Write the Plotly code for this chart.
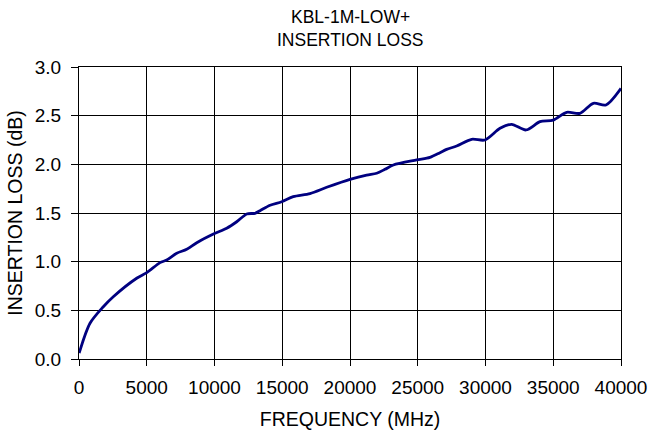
import plotly.graph_objects as go

freq_mhz = [10, 812, 1795, 2530, 4255, 5000, 5980, 6470, 7210, 7950, 8690, 9920, 10900,
            11640, 12380, 12990, 13360, 14100, 14960, 15810, 17050, 18280, 20000, 21230,
            21970, 22580, 23200, 24920, 25900, 26640, 27130, 27870, 28980, 29960, 31070,
            31930, 32990, 34020, 35000, 35990, 36970, 37960, 38890, 40000]
loss_db = [0.06, 0.367, 0.537, 0.64, 0.83, 0.887, 0.99, 1.017, 1.086, 1.127, 1.195, 1.284, 1.343,
           1.41, 1.49, 1.497, 1.524, 1.58, 1.616, 1.668, 1.70, 1.764, 1.846, 1.89,
           1.908, 1.949, 1.993, 2.045, 2.072, 2.12, 2.154, 2.188, 2.257, 2.25, 2.37,
           2.411, 2.353, 2.438, 2.455, 2.535, 2.524, 2.627, 2.61, 2.78]

title_lines = ["KBL-1M-LOW+", "INSERTION LOSS"]
x_title = "FREQUENCY (MHz)"
y_title = "INSERTION LOSS (dB)"

FONT = "Liberation Sans, Arial, sans-serif"

fig = go.Figure()
fig.add_trace(go.Scatter(
    x=freq_mhz, y=loss_db, mode="lines",
    line=dict(color="#000080", width=2.8, shape="spline", smoothing=0.8),
    hoverinfo="skip", showlegend=False,
))

fig.update_layout(
    width=649, height=433,
    margin=dict(l=79, r=28, t=67, b=74, autoexpand=False),
    paper_bgcolor="white", plot_bgcolor="white",
    font=dict(family=FONT, size=19, color="black"),
    showlegend=False,
)
for i, line in enumerate(title_lines):
    fig.add_annotation(
        text=line, xref="paper", yref="paper", x=0.5, xanchor="center",
        y=1 + (67 - 17 - 23 * i) / 292, yanchor="middle",
        showarrow=False, font=dict(family=FONT, size=17.5, color="black"),
    )

fig.update_xaxes(
    range=[0, 40000], tickmode="linear", tick0=0, dtick=5000, tickformat="d",
    showgrid=True, gridcolor="black", gridwidth=1,
    showline=True, linecolor="black", linewidth=1, mirror=True,
    ticks="outside", ticklen=6, tickcolor="black", automargin=False,
    ticklabelstandoff=5,
    tickfont=dict(family=FONT, size=19), zeroline=False,
    title=dict(text=x_title, font=dict(family=FONT, size=19.5), standoff=15),
)
fig.update_yaxes(
    range=[0, 3.0], tickmode="linear", tick0=0, dtick=0.5, tickformat=".1f",
    showgrid=True, gridcolor="black", gridwidth=1,
    showline=True, linecolor="black", linewidth=1, mirror=True,
    ticks="outside", ticklen=7, tickcolor="black", automargin=False,
    ticklabelstandoff=6,
    tickfont=dict(family=FONT, size=19), zeroline=False,
    title=dict(text=y_title, font=dict(family=FONT, size=19.5), standoff=6),
)

fig.write_html(
    "out.html",
    config={"displayModeBar": False},
    post_script="document.body.style.margin='0';document.body.style.overflow='hidden';",
)
